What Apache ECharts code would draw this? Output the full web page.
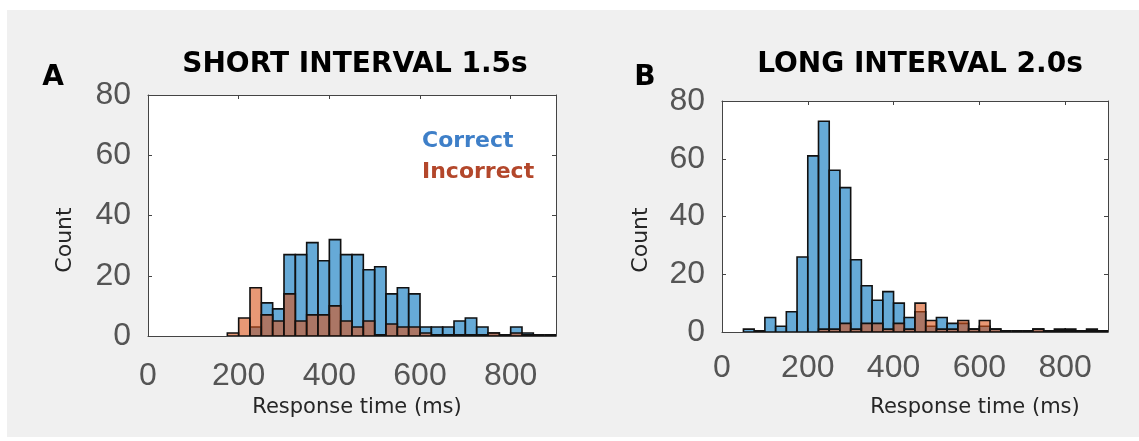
<!DOCTYPE html>
<html>
<head>
<meta charset="utf-8">
<script src="https://cdn.jsdelivr.net/npm/echarts@6/dist/echarts.min.js"></script>
<style>
  html, body { margin: 0; padding: 0; background: #ffffff; }
  #chart { width: 1139px; height: 441px; }
</style>
</head>
<body>
<div id="chart"></div>
<script>
// ---- data (bins of 25 ms, start values) ----
const binStarts = [0,25,50,75,100,125,150,175,200,225,250,275,300,325,350,375,400,425,450,475,500,525,550,575,600,625,650,675,700,725,750,775,800,825,850,875];
const binWidth = 25;

// Panel A: SHORT INTERVAL 1.5s
const shortCorrect   = [0,0,0,0,0,0,0,0,0,3,11,9,27,27,31,25,32,27,27,22,23,14,16,14,3,3,3,5,6,3,1,0,3,1,0,0];
const shortIncorrect = [0,0,0,0,0,0,0,1,6,16,7,5,14,5,7,7,10,5,3,5,0,4,3,3,1,0,0,0,0,0,1,0,1,0,0,0];
const shortFirstBin  = 7; // bins drawn (including empty ones) from here on

// Panel B: LONG INTERVAL 2.0s
const longCorrect    = [0,0,1,0,5,2,7,26,61,73,56,50,25,16,11,14,10,5,7,2,5,3,3,1,2,1,0,0,0,1,0,1,1,0,1,0];
const longIncorrect  = [0,0,0,0,0,0,0,0,0,1,1,3,1,3,3,1,3,1,10,4,1,1,4,1,4,1,0,0,0,1,0,0,0,0,0,0];
const longFirstBin   = 2;

const yTicks = [0, 20, 40, 60, 80];
const xTicks = [0, 200, 400, 600, 800];
const panelTitles = ['SHORT INTERVAL 1.5s', 'LONG INTERVAL 2.0s'];
const panelLetters = ['A', 'B'];
const legendLabels = ['Correct', 'Incorrect'];
const xAxisTitle = 'Response time (ms)';
const yAxisTitle = 'Count';

// ---- helpers ----
function histData(counts, first) {
  const out = [];
  for (let i = first; i < binStarts.length; i++) {
    out.push([binStarts[i], binStarts[i] + binWidth, counts[i]]);
  }
  return out;
}
function makeRender(fill) {
  return function (params, api) {
    const p0 = api.coord([api.value(0), api.value(2)]);
    const p1 = api.coord([api.value(1), 0]);
    if (api.value(2) === 0) {
      return {
        type: 'line',
        shape: { x1: p0[0], y1: p1[1] - 1, x2: p1[0], y2: p1[1] - 1 },
        style: { stroke: '#111111', lineWidth: 2 }
      };
    }
    return {
      type: 'rect',
      shape: { x: p0[0], y: p0[1], width: p1[0] - p0[0], height: p1[1] - p0[1] },
      style: { fill: fill, stroke: '#111111', lineWidth: 1.6 }
    };
  };
}
const blueFill = 'rgba(0,114,189,0.6)';
const orangeFill = 'rgba(217,83,25,0.6)';
const tickFont = { fontFamily: 'Liberation Sans, Arial, sans-serif', fontSize: 32, color: '#555555' };
const labelFont = 'DejaVu Sans, sans-serif';

const grids = [
  { left: 148, top: 95, width: 408, height: 241 },
  { left: 722, top: 101, width: 386, height: 231 }
];
const xLabelMargins = [24, 20];

const xAxes = [], yAxes = [];
grids.forEach(function (g, gi) {
  const common = { gridIndex: gi, type: 'value', min: 0, max: 900, interval: 200, splitLine: { show: false } };
  xAxes.push(Object.assign({}, common, {
    position: 'bottom',
    axisLine: { show: true, onZero: false, lineStyle: { color: '#444444', width: 1 } },
    axisTick: { show: true, inside: true, length: 4, lineStyle: { color: '#444444' } },
    axisLabel: Object.assign({ margin: xLabelMargins[gi], showMaxLabel: false,
      formatter: function (v) { return xTicks.indexOf(v) >= 0 ? String(v) : ''; } }, tickFont)
  }));
  xAxes.push(Object.assign({}, common, {
    position: 'top',
    axisLine: { show: true, onZero: false, lineStyle: { color: '#444444', width: 1 } },
    axisTick: { show: true, inside: true, length: 4, lineStyle: { color: '#444444' } },
    axisLabel: { show: false }
  }));
  const ycommon = { gridIndex: gi, type: 'value', min: 0, max: 80, interval: 20, splitLine: { show: false } };
  yAxes.push(Object.assign({}, ycommon, {
    position: 'left',
    axisLine: { show: true, onZero: false, lineStyle: { color: '#444444', width: 1 } },
    axisTick: { show: true, inside: true, length: 4, lineStyle: { color: '#444444' } },
    axisLabel: Object.assign({ margin: 17,
      formatter: function (v) { return yTicks.indexOf(v) >= 0 ? String(v) : ''; } }, tickFont)
  }));
  yAxes.push(Object.assign({}, ycommon, {
    position: 'right',
    axisLine: { show: true, onZero: false, lineStyle: { color: '#444444', width: 1 } },
    axisTick: { show: true, inside: true, length: 4, lineStyle: { color: '#444444' } },
    axisLabel: { show: false }
  }));
});

const series = [
  { type: 'custom', xAxisIndex: 0, yAxisIndex: 0, renderItem: makeRender(blueFill), data: histData(shortCorrect, shortFirstBin + 2), clip: true },
  { type: 'custom', xAxisIndex: 0, yAxisIndex: 0, renderItem: makeRender(orangeFill), data: histData(shortIncorrect, shortFirstBin), clip: true },
  { type: 'custom', xAxisIndex: 2, yAxisIndex: 2, renderItem: makeRender(blueFill), data: histData(longCorrect, longFirstBin), clip: true },
  { type: 'custom', xAxisIndex: 2, yAxisIndex: 2, renderItem: makeRender(orangeFill), data: histData(longIncorrect, longFirstBin + 7), clip: true }
];

function txt(x, y, text, size, weight, color, extra) {
  return Object.assign({
    type: 'text', x: x, y: y, z: 100,
    style: { text: text, fontFamily: labelFont, fontSize: size, fontWeight: weight, fill: color,
             align: 'center', verticalAlign: 'middle' }
  }, extra || {});
}

const graphic = [
  { type: 'rect', shape: { x: 0, y: 0, width: 1139, height: 10 }, style: { fill: '#ffffff' }, z: 1 },
  { type: 'rect', shape: { x: 0, y: 0, width: 7, height: 441 }, style: { fill: '#ffffff' }, z: 1 },
  { type: 'rect', shape: { x: 0, y: 437, width: 1139, height: 4 }, style: { fill: '#ffffff' }, z: 1 },
  txt(53, 78, panelLetters[0], 28, 'bold', '#000000'),
  txt(645, 78, panelLetters[1], 28, 'bold', '#000000'),
  txt(355, 65, panelTitles[0], 28, 'bold', '#000000'),
  txt(920, 65, panelTitles[1], 28, 'bold', '#000000'),
  txt(357, 408, xAxisTitle, 21, 'normal', '#262626'),
  txt(975, 408, xAxisTitle, 21, 'normal', '#262626'),
  txt(65, 240, yAxisTitle, 22, 'normal', '#262626', { rotation: Math.PI / 2 }),
  txt(641, 240, yAxisTitle, 22, 'normal', '#262626', { rotation: Math.PI / 2 }),
  { type: 'text', x: 422, y: 141, z: 100, style: { text: legendLabels[0], fontFamily: labelFont, fontSize: 22, fontWeight: 'bold', fill: '#3E7FC8', align: 'left', verticalAlign: 'middle' } },
  { type: 'text', x: 422, y: 172, z: 100, style: { text: legendLabels[1], fontFamily: labelFont, fontSize: 22, fontWeight: 'bold', fill: '#B3472B', align: 'left', verticalAlign: 'middle' } }
];

const chart = echarts.init(document.getElementById('chart'), null, { renderer: 'canvas' });
chart.setOption({
  backgroundColor: '#f0f0f0',
  animation: false,
  grid: grids.map(function (g) { return Object.assign({ show: true, backgroundColor: '#ffffff', borderWidth: 0 }, g); }),
  xAxis: xAxes,
  yAxis: yAxes,
  series: series,
  graphic: graphic
});
</script>
</body>
</html>
